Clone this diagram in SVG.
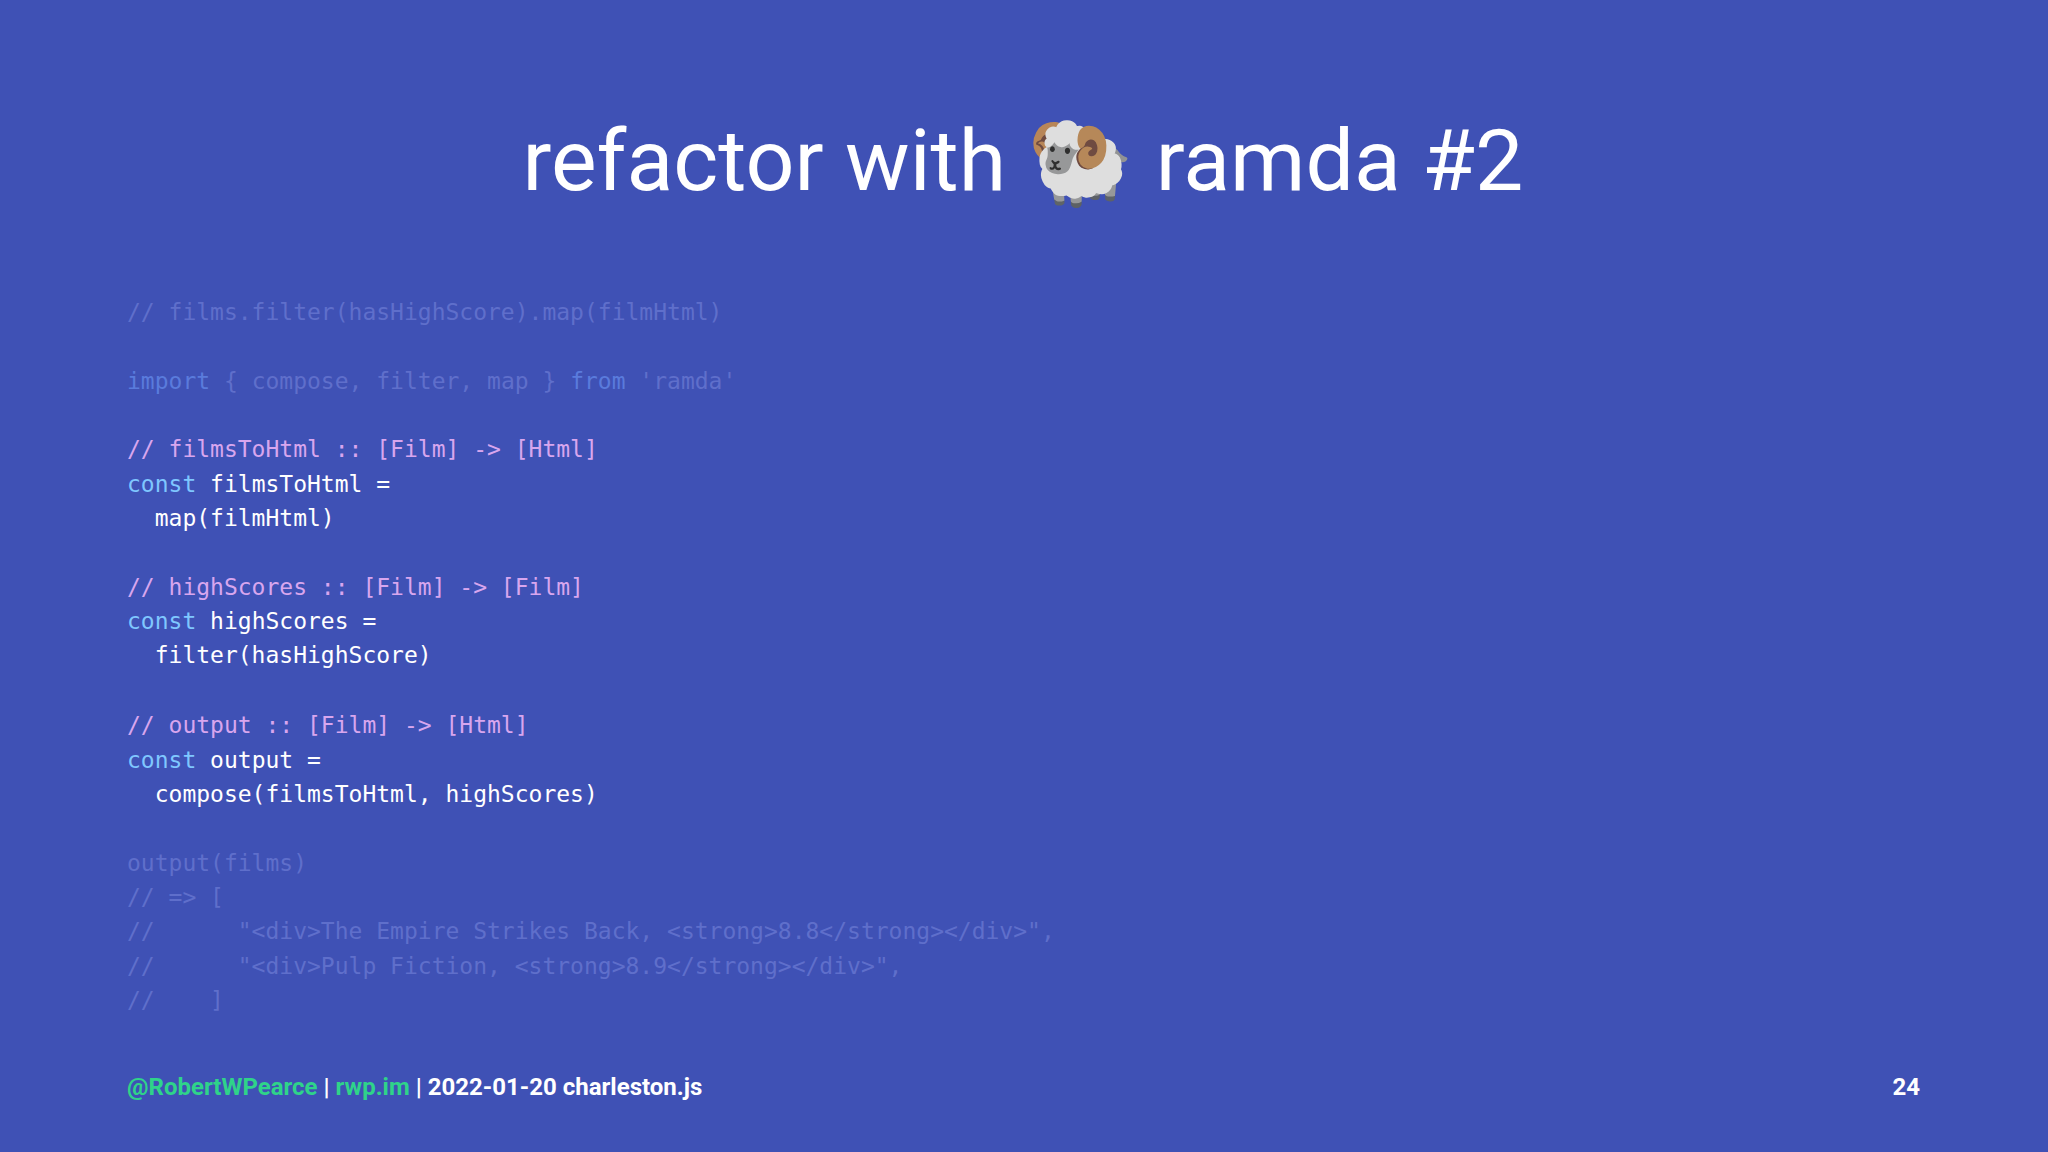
<svg xmlns="http://www.w3.org/2000/svg" width="2048" height="1152" viewBox="0 0 2048 1152">
<style>
.c{font-family:"DejaVu Sans Mono","Liberation Mono",monospace;font-size:23px;fill:#ffffff;white-space:pre}
.dim{fill:#5f6fcb}
.dk{fill:#5a7bdc}
.cm{fill:#d8a6ee}
.kw{fill:#7fc7ff}
.f{font-family:Roboto,"Liberation Sans",sans-serif;font-size:24px;font-weight:bold;fill:#fff}
.g{fill:#2fd38a}
</style>
<rect width="2048" height="1152" fill="#3f51b5"/>
<g id="title"><text x="1023" y="190" text-anchor="middle" font-family="Roboto,'Liberation Sans',sans-serif" font-size="86" fill="#fff">refactor with <tspan font-family="'Noto Color Emoji','Noto Sans',sans-serif">🐏</tspan> ramda #2</text></g>
<g id="code">
<text class="c dim" x="127" y="320">// films.filter(hasHighScore).map(filmHtml)</text>
<text class="c dim" x="127" y="389"><tspan class="dk">import</tspan> { compose, filter, map } <tspan class="dk">from</tspan> 'ramda'</text>
<text class="c cm" x="127" y="457">// filmsToHtml :: [Film] -&gt; [Html]</text>
<text class="c" x="127" y="492"><tspan class="kw">const</tspan> filmsToHtml =</text>
<text class="c" x="127" y="526">  map(filmHtml)</text>
<text class="c cm" x="127" y="595">// highScores :: [Film] -&gt; [Film]</text>
<text class="c" x="127" y="629"><tspan class="kw">const</tspan> highScores =</text>
<text class="c" x="127" y="663">  filter(hasHighScore)</text>
<text class="c cm" x="127" y="733">// output :: [Film] -&gt; [Html]</text>
<text class="c" x="127" y="768"><tspan class="kw">const</tspan> output =</text>
<text class="c" x="127" y="802">  compose(filmsToHtml, highScores)</text>
<text class="c dim" x="127" y="871">output(films)</text>
<text class="c dim" x="127" y="905">// =&gt; [</text>
<text class="c dim" x="127" y="939">//      "&lt;div&gt;The Empire Strikes Back, &lt;strong&gt;8.8&lt;/strong&gt;&lt;/div&gt;",</text>
<text class="c dim" x="127" y="974">//      "&lt;div&gt;Pulp Fiction, &lt;strong&gt;8.9&lt;/strong&gt;&lt;/div&gt;",</text>
<text class="c dim" x="127" y="1008">//    ]</text>
</g>
<g id="footer">
<text class="f" x="127" y="1095"><tspan class="g">@RobertWPearce</tspan> | <tspan class="g">rwp.im</tspan> | 2022-01-20 charleston.js</text>
<text class="f" x="1920" y="1095" text-anchor="end">24</text>
</g>
</svg>
